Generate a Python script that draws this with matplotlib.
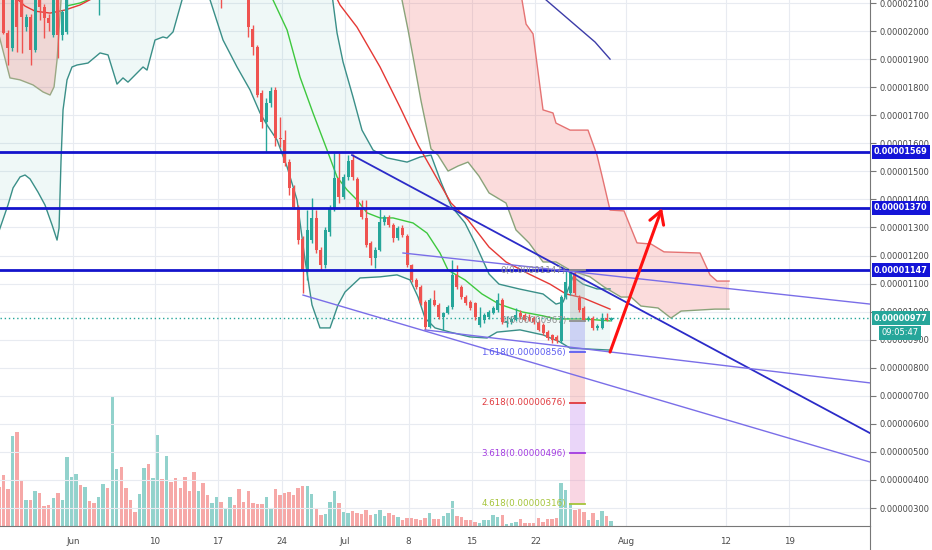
import numpy as np
import pandas as pd
import matplotlib
matplotlib.use("Agg")
import matplotlib.pyplot as plt
import matplotlib.transforms as mtransforms
from matplotlib.patches import FancyArrowPatch

plt.rcParams["font.family"] = ["DejaVu Sans"]

REF_DAY = pd.Timestamp("2019-07-01")
CANDLE_START = "2019-05-23 20:00"   # 12h candles

# prices in satoshi (1 = 0.00000001)
opens = [2150, 2150, 1993, 1940, 2140, 2130, 2014, 2050, 1932, 2120,
         2086, 2047, 1986, 2130, 1986, 1997, 2160, 2230, 2290, 2250,
         2300, 2270, 2240, 2300, 2380, 2340, 2520, 2580, 2500, 2450,
         2430, 2410, 2460, 2560, 2480, 2540, 2680, 2600, 2700, 2640,
         2580, 2540, 2480, 2450, 2370, 2420, 2350, 2310, 2340, 2370,
         2300, 2330, 2360, 2310, 2250, 2180, 2007, 1943, 1779, 1676,
         1744, 1790, 1619, 1612, 1533, 1441, 1373, 1259, 1148, 1255,
         1334, 1220, 1166, 1284, 1369, 1476, 1409, 1480, 1540, 1473,
         1369, 1334, 1245, 1191, 1220, 1319, 1337, 1309, 1262, 1298,
         1270, 1166, 1113, 1088, 1034, 945, 1041, 1024, 981, 996,
         1017, 1131, 1088, 1052, 1034, 1031, 952, 970, 981, 996,
         1006, 1041, 960, 963, 970, 995, 988, 981, 977, 963,
         952, 927, 917, 910, 895, 1052, 1066, 1138, 1049, 1013,
         974, 977, 942, 942, 977, 970]
closes = [2090, 1993, 1940, 2140, 2014, 2050, 2050, 1932, 2140, 2086,
          2047, 2029, 2130, 1986, 2068, 2160, 2230, 2290, 2250, 2300,
          2270, 2240, 2300, 2380, 2340, 2520, 2580, 2500, 2450, 2430,
          2410, 2460, 2560, 2480, 2540, 2680, 2600, 2700, 2640, 2580,
          2540, 2480, 2450, 2370, 2420, 2350, 2310, 2340, 2370, 2300,
          2330, 2360, 2310, 2250, 2180, 2014, 1943, 1772, 1676, 1744,
          1786, 1619, 1615, 1530, 1441, 1373, 1255, 1148, 1291, 1334,
          1220, 1166, 1291, 1369, 1476, 1409, 1480, 1537, 1480, 1373,
          1337, 1238, 1191, 1220, 1319, 1337, 1309, 1262, 1298, 1273,
          1166, 1113, 1088, 1031, 945, 1041, 1024, 981, 996, 1017,
          1131, 1088, 1052, 1031, 1013, 981, 981, 988, 999, 1013,
          1041, 963, 965, 975, 988, 981, 970, 970, 963, 935,
          924, 906, 899, 895, 1052, 1106, 1138, 1066, 1006, 970,
          977, 942, 949, 977, 970, 977]
highs = [2180, 2170, 2005, 2170, 2160, 2150, 2060, 2060, 2160, 2160,
         2095, 2060, 2150, 2140, 2075, 2180, 2250, 2310, 2310, 2320,
         2320, 2290, 2320, 2400, 2400, 2540, 2620, 2600, 2520, 2470,
         2450, 2470, 2580, 2570, 2560, 2700, 2690, 2730, 2710, 2650,
         2590, 2560, 2500, 2460, 2430, 2430, 2370, 2350, 2380, 2390,
         2340, 2370, 2370, 2320, 2260, 2190, 2020, 1950, 1790, 1760,
         1801, 1800, 1694, 1647, 1545, 1450, 1380, 1270, 1362, 1405,
         1362, 1230, 1300, 1380, 1565, 1565, 1490, 1558, 1562, 1480,
         1398, 1398, 1250, 1230, 1366, 1345, 1345, 1315, 1305, 1309,
         1275, 1170, 1120, 1095, 1040, 1050, 1077, 1030, 1000, 1025,
         1184, 1166, 1095, 1060, 1040, 1035, 1017, 995, 1005, 1020,
         1066, 1050, 985, 985, 1013, 1005, 995, 990, 985, 970,
         958, 935, 920, 915, 1060, 1148, 1148, 1148, 1060, 1020,
         985, 985, 955, 995, 995, 982]
lows = [2050, 1990, 1879, 1930, 1925, 1922, 2000, 1879, 1925, 2039,
        1975, 2000, 1980, 1904, 1968, 1990, 2120, 2200, 2230, 2230,
        2250, 2220, 2057, 2280, 2320, 2320, 2500, 2480, 2430, 2410,
        2390, 2390, 2440, 2460, 2470, 2520, 2580, 2580, 2620, 2560,
        2520, 2460, 2430, 2350, 2350, 2330, 2290, 2290, 2320, 2082,
        2280, 2310, 2300, 2240, 2170, 1979, 1915, 1765, 1655, 1569,
        1730, 1590, 1587, 1520, 1416, 1365, 1240, 1066, 1113, 1245,
        1210, 1150, 1155, 1270, 1360, 1387, 1400, 1470, 1470, 1365,
        1330, 1230, 1166, 1156, 1215, 1310, 1300, 1248, 1255, 1265,
        1160, 1105, 1080, 1025, 935, 940, 1020, 975, 935, 990,
        1010, 1080, 1045, 1025, 1006, 970, 945, 960, 975, 990,
        1000, 955, 945, 955, 965, 975, 965, 965, 955, 930,
        918, 900, 888, 888, 890, 1045, 1060, 1060, 1000, 965,
        965, 935, 935, 938, 965, 965]
volumes = [39, 51, 37, 90, 94, 46, 26, 26, 35, 33,
           20, 21, 28, 33, 26, 69, 49, 52, 41, 39,
           25, 23, 29, 42, 38, 130, 57, 59, 38, 26,
           14, 32, 58, 62, 48, 91, 47, 70, 44, 48,
           38, 49, 35, 54, 35, 43, 31, 23, 29, 24,
           18, 29, 21, 37, 24, 35, 23, 22, 22, 29,
           18, 37, 31, 33, 34, 31, 38, 40, 40, 32,
           18, 11, 12, 24, 35, 23, 14, 13, 15, 13,
           12, 16, 11, 12, 16, 10, 13, 11, 9, 6,
           8, 8, 7, 6, 8, 13, 7, 7, 10, 13,
           25, 10, 9, 6, 6, 4, 3, 6, 6, 11,
           9, 11, 2, 3, 4, 7, 3, 3, 3, 8,
           4, 7, 7, 8, 43, 36, 23, 16, 18, 14,
           6, 13, 6, 15, 10, 5]

# indicator lines, x in days from Jul 1
bb_low_d = [-38.3, -37.16, -36.6, -35.83, -35.28, -34.73, -33.85, -33.08, -32.3, -31.75,
            -31.53, -31.31, -31.09, -30.65, -30.1, -29.55, -28.34, -27.01, -26.13, -25.14,
            -24.48, -23.93, -22.27, -21.83, -20.95, -20.07, -19.63, -18.96, -17.97, -17.09,
            -15.77, -14.88, -13.45, -11.91, -10.47, -9.37, -8.6, -7.5, -6.39, -5.29,
            -4.41, -3.64, -2.76, -1.65, -0.77, 0, 1.65, 3.86, 5.73, 7.17,
            8.05, 8.82, 9.92, 11.58, 13.78, 15.66, 16.76, 19.29, 21.83, 23.7,
            24.81, 29.22]
bb_low_p = [1273, 1380, 1441, 1480, 1487, 1473, 1426, 1380, 1309, 1255,
            1298, 1540, 1719, 1826, 1872, 1879, 1886, 1922, 1915, 1811,
            1833, 1818, 1872, 1861, 1968, 1979, 1975, 1997, 2111, 2253,
            2253, 2111, 1968, 1872, 1790, 1708, 1665, 1612, 1516, 1398,
            1184, 1024, 942, 942, 1024, 1070, 1120, 1124, 1131, 1113,
            1052, 977, 942, 927, 910, 906, 927, 935, 917, 892,
            870, 863]
bb_up_d = [-38.3, -1.87, -1.43, -0.88, -0.22, 0.88, 1.87, 3.09, 4.63, 6.84,
           8.27, 9.48, 10.58, 11.69, 13.23, 14.33, 15.88, 16.98, 19.18, 21.83,
           23.26, 24.04, 25.14, 26.24, 27.78, 29.22]
bb_up_p = [2253, 2253, 2129, 1993, 1890, 1765, 1647, 1576, 1548, 1533,
           1551, 1558, 1462, 1377, 1316, 1245, 1134, 1098, 1081, 1063,
           1027, 1034, 1124, 1098, 1081, 1081]
bb_mid_d = [-8.49, -7.94, -6.39, -4.96, -3.53, -1.98, -0.88, 0.22, 1.32, 2.43,
            3.86, 5.29, 7.5, 9.04, 10.47, 11.36, 13.23, 15.1, 16.98, 19.51,
            21.83, 23.26, 26.24, 29.22]
bb_mid_p = [2146, 2111, 2004, 1836, 1708, 1576, 1480, 1434, 1398, 1352,
            1334, 1334, 1316, 1280, 1209, 1148, 1113, 1063, 1027, 999,
            985, 974, 974, 967]
mid_left_d = [-30.76, -29.22, -27.56]
mid_left_p = [2089, 2100, 2121]
ma_red_d = [-1.1, -0.55, 1.32, 3.86, 6.06, 8.05, 9.92, 11.69, 13.56, 15.88,
            17.75, 20.29, 22.6, 24.37, 26.24, 29.22]
ma_red_p = [2129, 2093, 2014, 1872, 1729, 1594, 1487, 1387, 1327, 1230,
            1177, 1134, 1098, 1063, 1049, 1009]
red_left_d = [-36.38, -35.28, -34.18, -32.52, -30.87, -29.22, -27.56]
red_left_p = [2121, 2089, 2071, 2064, 2075, 2093, 2121]
ma_blue_d = [21.5, 22.16, 25.36, 27.56, 29.22]
ma_blue_p = [2140, 2111, 2022, 1961, 1900]

# ichimoku cloud edges
cloud_top_d = [6.0, 19.4, 19.51, 19.96, 20.73, 21.83, 22.93, 23.26, 24.81, 26.79,
               27.78, 28.34, 29.22, 30.76, 32.19, 33.74, 35.17, 39.14, 40.24, 41.01, 42.34]
cloud_top_p = [2253, 2253, 2111, 2025, 1990, 1719, 1708, 1672, 1647, 1647,
               1558, 1483, 1362, 1359, 1245, 1241, 1213, 1209, 1131, 1109, 1109]
cloud_bot_d = [6.0, 6.28, 6.95, 7.5, 8.38, 9.48, 10.25, 11.36, 12.46, 13.56,
               14.77, 15.88, 17.75, 18.85, 20.29, 21.83, 23.26, 24.81, 27.01, 28.56,
               30.43, 31.53, 32.63, 34.51, 35.94, 37.05, 40.79, 42.34]
cloud_bot_p = [2253, 2111, 2004, 1908, 1751, 1580, 1558, 1501, 1519, 1533,
               1483, 1423, 1387, 1291, 1245, 1177, 1177, 1148, 1124, 1088,
               1052, 1052, 1020, 1013, 977, 1002, 1009, 1009]
lcloud_d = [-38.3, -36.94, -35.83, -34.4, -33.3, -32.52, -32.08, -31.75, -31.53, -31.31]
lcloud_p = [2004, 1833, 1826, 1808, 1783, 1772, 1801, 1897, 2004, 2111]

# drawings
h_levels = [1569, 1370, 1147]
trend_main = ([0.77, 57.88], [1558, 567])
trend_thin = [([6.39, 57.88], [1209, 1027]),
              ([8.82, 57.88], [935, 746]),
              ([-4.63, 57.88], [1059, 464])]
fib_ratio = ["0", "1", "1.618", "2.618", "3.618", "4.618"]
fib_price = [1147, 967, 856, 676, 496, 316]
fib_color = ["#8f8f8f", "#8f8f8f", "#5d5df0", "#e0393e", "#a33ce0", "#a5c43a"]
zone_color = ["#b0b0b0", "#8c8cf0", "#f08c8c", "#c58cf0", "#f08cb0"]
fib_x = [24.81, 26.46]
arrow_from = (29.22, 856)
arrow_to = (34.95, 1369)
last_price = 977
countdown = "09:05:47"

tick_dates = ["2019-06-01", "2019-06-10", "2019-06-17", "2019-06-24", "2019-07-01",
              "2019-07-08", "2019-07-15", "2019-07-22", "2019-08-01", "2019-08-12", "2019-08-19"]
tick_labels = ["Jun", "10", "17", "24", "Jul", "8", "15", "22", "Aug", "12", "19"]
price_ticks = [300, 400, 500, 600, 700, 800, 900, 1000, 1100, 1200, 1300,
               1400, 1500, 1600, 1700, 1800, 1900, 2000, 2100]

TEAL = "#26a69a"
RED = "#ef5350"

times = pd.date_range(CANDLE_START, periods=len(opens), freq="12h")
x = ((times - REF_DAY) / pd.Timedelta(days=1)).to_numpy()
o = np.array(opens, float)
c = np.array(closes, float)
up = c >= o
cols = np.where(up, TEAL, RED)

fig = plt.figure(figsize=(9.32, 5.5), dpi=100)
rect = [0, 24 / 550, 870 / 932, 526 / 550]
axv = fig.add_axes(rect, zorder=0)
ax = fig.add_axes(rect, zorder=1)
ax.patch.set_alpha(0)

XL = (-38.04, 57.88)
YL = (236, 2110.7)

# volume behind
axv.bar(x, volumes, width=0.38, color=cols, alpha=0.5, linewidth=0)
axv.set_xlim(*XL)
axv.set_ylim(0, 526)
axv.axis("off")

ax.set_xlim(*XL)
ax.set_ylim(*YL)

# fills
ax.fill(list(bb_low_d) + bb_up_d[::-1], list(bb_low_p) + bb_up_p[::-1],
        color=TEAL, alpha=0.07, lw=0, zorder=1)
ax.fill(list(cloud_bot_d) + cloud_top_d[::-1], list(cloud_bot_p) + cloud_top_p[::-1],
        color=RED, alpha=0.2, lw=0, zorder=1)
ax.fill(lcloud_d + [-31.2, -38.3], lcloud_p + [2253, 2253], color=RED, alpha=0.2, lw=0, zorder=1)

# indicator lines
ax.plot(bb_low_d, bb_low_p, color="#3a8f88", lw=1, zorder=2)
ax.plot(bb_up_d, bb_up_p, color="#3a8f88", lw=1, zorder=2)
ax.plot(bb_mid_d, bb_mid_p, color="#3ec83e", lw=1, zorder=2)
ax.plot(mid_left_d, mid_left_p, color="#3ec83e", lw=1, zorder=2)
ax.plot(ma_red_d, ma_red_p, color="#e53935", lw=1, zorder=2)
ax.plot(red_left_d, red_left_p, color="#e53935", lw=1, zorder=2)
ax.plot(ma_blue_d, ma_blue_p, color="#3c3ca8", lw=1, zorder=2)
ax.plot(cloud_top_d, cloud_top_p, color="#e57373", lw=1, zorder=2)
ax.plot(cloud_bot_d, cloud_bot_p, color="#8aa37a", lw=1, zorder=2)
ax.plot(lcloud_d, lcloud_p, color="#9aa884", lw=1, zorder=2)

# fib zones
for k in range(len(fib_price) - 1):
    ax.fill_between(fib_x, fib_price[k + 1], fib_price[k], color=zone_color[k],
                    alpha=0.35, lw=0, zorder=2.2)

# candles
ax.vlines(x, lows, highs, colors=cols, lw=1, zorder=4)
ax.bar(x, np.maximum(np.abs(c - o), 3), bottom=np.minimum(o, c), width=0.33,
       color=cols, lw=0, zorder=4)

# current price dotted line
ax.axhline(last_price, color=TEAL, lw=1, ls=(0, (1, 2)), zorder=3)

# horizontal levels and trend lines
for lv in h_levels:
    ax.axhline(lv, color="#1414cc", lw=2, zorder=5)
ax.plot(*trend_main, color="#2b2bc8", lw=1.3, zorder=5)
for dd, pp in trend_thin:
    ax.plot(dd, pp, color="#7a6ee8", lw=1, zorder=5)

# fib levels + labels
for r, p, col in zip(fib_ratio, fib_price, fib_color):
    ax.plot(fib_x, [p, p], color=col, lw=1.3, zorder=5)
    ax.text(24.37, p, f"{r}({p / 1e8:.8f})", color=col, fontsize=6.3,
            ha="right", va="center", zorder=6)

arr = FancyArrowPatch(arrow_from, arrow_to, arrowstyle="->,head_length=0.6,head_width=0.35",
                      mutation_scale=15, color="#ff1010", lw=2.2, shrinkA=0, shrinkB=0, zorder=7)
ax.add_patch(arr)

# grid
ax.set_yticks(price_ticks)
ax.yaxis.set_major_formatter(plt.FuncFormatter(lambda v, _: f"{v / 1e8:.8f}"))
tick_x = [(pd.Timestamp(t) - REF_DAY) / pd.Timedelta(days=1) for t in tick_dates]
ax.set_xticks(tick_x)
ax.set_xticklabels(tick_labels)
ax.grid(True, color="#e8ebf1", lw=0.8, zorder=0)
ax.set_axisbelow(True)

ax.yaxis.tick_right()
ax.tick_params(axis="y", length=4, width=0.8, color="#777777", labelsize=6.0,
               labelcolor="#4a4a4a", pad=3)
ax.tick_params(axis="x", length=0, labelsize=6.3, labelcolor="#4a4a4a", pad=8)
for s in ["left", "top"]:
    ax.spines[s].set_visible(False)
for s in ["right", "bottom"]:
    ax.spines[s].set_color("#777777")
    ax.spines[s].set_linewidth(0.8)
fig.add_artist(plt.Line2D([870 / 932, 870 / 932], [0, 24 / 550], color="#777777", lw=0.8))

# price boxes on the scale
blend = mtransforms.blended_transform_factory(ax.transAxes, ax.transData)
for lv in h_levels:
    ax.text(874 / 870, lv, f"{lv / 1e8:.8f}", transform=blend, color="white",
            fontsize=5.9, fontweight="bold", ha="left", va="center", clip_on=False, zorder=10,
            bbox=dict(boxstyle="square,pad=0.3", fc="#1414d8", ec="none"))
ax.text(874 / 870, last_price, f"{last_price / 1e8:.8f}", transform=blend, color="white",
        fontsize=5.9, fontweight="bold", ha="left", va="center", clip_on=False, zorder=10,
        bbox=dict(boxstyle="square,pad=0.3", fc=TEAL, ec="none"))
ax.text(881 / 870, 924, countdown, transform=blend, color="white",
        fontsize=6.0, ha="left", va="center", clip_on=False, zorder=10,
        bbox=dict(boxstyle="square,pad=0.3", fc=TEAL, ec="none"))

fig.savefig("out.png", dpi=100)
